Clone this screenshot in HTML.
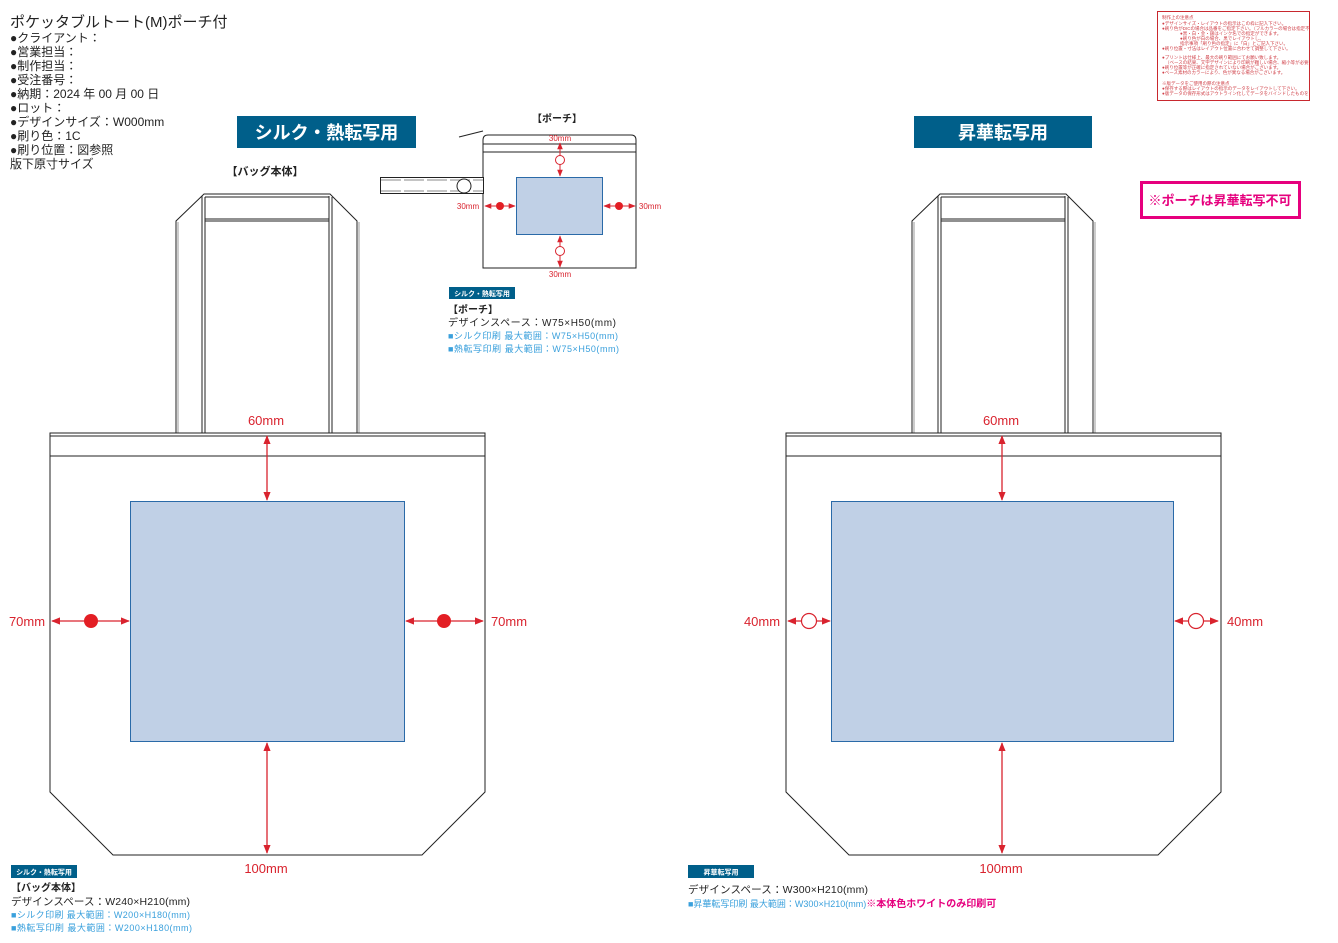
<!DOCTYPE html>
<html><head><meta charset="utf-8"><style>
html,body{margin:0;padding:0;background:#fff;}
body{width:1338px;height:943px;position:relative;overflow:hidden;font-family:"Liberation Sans","Noto Sans CJK JP",sans-serif;}
</style></head><body>
<svg width="1338" height="943" style="position:absolute;left:0;top:0" font-family="Liberation Sans, Noto Sans CJK JP, sans-serif">
<defs>
<marker id="a" viewBox="0 0 10 10" refX="9" refY="5" markerWidth="7" markerHeight="7" orient="auto-start-reverse"><path d="M0,1 L10,5 L0,9z" fill="#d9232e"/></marker>
<clipPath id="nc"><rect x="1158" y="12" width="151" height="88"/></clipPath>
</defs>
<g font-size="12" fill="#222">
<text x="10" y="27" font-size="15">ポケッタブルトート(M)ポーチ付</text>
<text x="10" y="42">●クライアント：</text>
<text x="10" y="56">●営業担当：</text>
<text x="10" y="70">●制作担当：</text>
<text x="10" y="84">●受注番号：</text>
<text x="10" y="98">●納期：2024 年 00 月 00 日</text>
<text x="10" y="112">●ロット：</text>
<text x="10" y="126">●デザインサイズ：W000mm</text>
<text x="10" y="140">●刷り色：1C</text>
<text x="10" y="154">●刷り位置：図参照</text>
<text x="10" y="168">版下原寸サイズ</text>
</g>
<rect x="1157.5" y="11.5" width="152" height="89" fill="#fff" stroke="#c8282e"/>
<g fill="#d04048" font-size="4.5" clip-path="url(#nc)">
<text x="1162" y="19">制作上の注意点</text>
<text x="1162" y="25">●デザインサイズ・レイアウトの指示はこの枠に記入下さい。</text>
<text x="1162" y="30">●刷り色がDICの場合は品番をご指定下さい。（フルカラーの場合は指定不要）</text>
<text x="1180" y="35">●黒・白・金・銀はインク名での指定ができます。</text>
<text x="1180" y="40">●刷り色が白の場合、黒でレイアウトし、</text>
<text x="1180" y="45">指示事項「刷り色の指定」に「白」とご記入下さい。</text>
<text x="1162" y="50">●刷り位置・寸法はレイアウト位置に合わせて調整して下さい。</text>
<text x="1162" y="59">●プリントは仕様上、最大の刷り範囲にてお願い致します。</text>
<text x="1165" y="64">（ベースの結果、文字デザインにより印刷が難しい場合、縮小等が必要な場合がございます）</text>
<text x="1162" y="69">●刷り位置等が正確に指定されていない場合がございます。</text>
<text x="1162" y="74">●ベース素材のカラーにより、色が異なる場合がございます。</text>
<text x="1162" y="85">※版データをご使用の際の注意点</text>
<text x="1162" y="90">●保存する際はレイアウトの指示のデータをレイアウトして下さい。</text>
<text x="1162" y="95">●版データの保存形式はアウトライン化してデータをバインドしたものを</text>
</g>
<rect x="237" y="116" width="179" height="32" fill="#005f8a"/>
<text x="326.5" y="139" fill="#fff" font-size="18" font-weight="bold" text-anchor="middle">シルク・熱転写用</text>
<rect x="914" y="116" width="178" height="32" fill="#005f8a"/>
<text x="1003" y="139" fill="#fff" font-size="18" font-weight="bold" text-anchor="middle">昇華転写用</text>
<rect x="1141.5" y="182.5" width="158" height="35" fill="#fff" stroke="#e6007e" stroke-width="3"/>
<text x="1220" y="205" fill="#e6007e" font-size="13" font-weight="bold" text-anchor="middle">※ポーチは昇華転写不可</text>
<text x="265" y="175" font-size="11" font-weight="bold" fill="#222" text-anchor="middle">【バッグ本体】</text>
<text x="557" y="122" font-size="10" font-weight="bold" fill="#222" text-anchor="middle">【ポーチ】</text>

<g id="bag" fill="none" stroke="#222" stroke-width="1">
<path d="M176,433 V221 L204,194 H330 L357,221 V433" fill="#fff"/>
<path d="M178,433 V222" stroke="#999"/>
<path d="M202,433 V196 M205,433 V197 M329,433 V196 M332,433 V197"/>
<path d="M205,197 H329 M205,219 H329 M205,221 H329"/>
<path d="M359,433 V222" stroke="#999"/>
<path d="M50,433 H485 V792 L422,855 H113 L50,792 Z" fill="#fff"/>
<path d="M50,436 H485 M50,456 H485"/>
</g>
<use href="#bag" x="736"/>
<rect x="130.5" y="501.5" width="274" height="240" fill="#c0d0e6" stroke="#2a6aa8"/>
<rect x="831.5" y="501.5" width="342" height="240" fill="#c0d0e6" stroke="#2a6aa8"/>
<g stroke="#d9232e" stroke-width="1.3" fill="none">
<line x1="267" y1="436" x2="267" y2="500" marker-start="url(#a)" marker-end="url(#a)"/>
<line x1="267" y1="743" x2="267" y2="853" marker-start="url(#a)" marker-end="url(#a)"/>
<line x1="52" y1="621" x2="129" y2="621" marker-start="url(#a)" marker-end="url(#a)"/>
<line x1="406" y1="621" x2="483" y2="621" marker-start="url(#a)" marker-end="url(#a)"/>
<line x1="1002" y1="436" x2="1002" y2="500" marker-start="url(#a)" marker-end="url(#a)"/>
<line x1="1002" y1="743" x2="1002" y2="853" marker-start="url(#a)" marker-end="url(#a)"/>
<line x1="788" y1="621" x2="830" y2="621" marker-start="url(#a)" marker-end="url(#a)"/>
<line x1="1175" y1="621" x2="1218" y2="621" marker-start="url(#a)" marker-end="url(#a)"/>
</g>
<circle cx="91" cy="621" r="7" fill="#e31e24"/>
<circle cx="444" cy="621" r="7" fill="#e31e24"/>
<circle cx="809" cy="621" r="7.5" fill="#fff" stroke="#d9232e" stroke-width="1.2"/>
<circle cx="1196" cy="621" r="7.5" fill="#fff" stroke="#d9232e" stroke-width="1.2"/>
<g fill="#d9232e" font-size="13" text-anchor="middle">
<text x="266" y="425">60mm</text><text x="266" y="873">100mm</text>
<text x="27" y="626">70mm</text><text x="509" y="626">70mm</text>
<text x="1001" y="425">60mm</text><text x="1001" y="873">100mm</text>
<text x="762" y="626">40mm</text><text x="1245" y="626">40mm</text>
</g>

<g fill="none" stroke="#222">
<path d="M483,268 V140 Q483,135 488,135 H631 Q636,135 636,140 V268 H483Z" fill="#fff"/>
<path d="M459,137 L483,131"/>
<path d="M483,144 H636 M483,152 H636"/>
<rect x="380.5" y="177.5" width="103" height="16" fill="#fff"/>
<path d="M381,180 H483 M381,191 H483" stroke="#888" stroke-dasharray="20 3"/>
<circle cx="464" cy="186" r="7" fill="#fff"/>
</g>
<rect x="516.5" y="177.5" width="86" height="57" fill="#c0d0e6" stroke="#2a6aa8"/>
<g stroke="#d9232e" stroke-width="1" fill="none">
<line x1="560" y1="143" x2="560" y2="176" marker-start="url(#a)" marker-end="url(#a)"/>
<line x1="560" y1="236" x2="560" y2="267" marker-start="url(#a)" marker-end="url(#a)"/>
<line x1="485" y1="206" x2="515" y2="206" marker-start="url(#a)" marker-end="url(#a)"/>
<line x1="604" y1="206" x2="635" y2="206" marker-start="url(#a)" marker-end="url(#a)"/>
</g>
<circle cx="560" cy="160" r="4.5" fill="#fff" stroke="#d9232e"/>
<circle cx="560" cy="251" r="4.5" fill="#fff" stroke="#d9232e"/>
<circle cx="500" cy="206" r="4" fill="#e31e24"/>
<circle cx="619" cy="206" r="4" fill="#e31e24"/>
<g fill="#d9232e" font-size="8" text-anchor="middle">
<text x="560" y="141">30mm</text><text x="560" y="277">30mm</text>
<text x="468" y="209">30mm</text><text x="650" y="209">30mm</text>
</g>

<rect x="449" y="287" width="66" height="12" fill="#005f8a"/>
<text x="482" y="296" fill="#fff" font-size="7" font-weight="bold" text-anchor="middle">シルク・熱転写用</text>
<text x="448" y="313" font-size="10" font-weight="bold" fill="#222">【ポーチ】</text>
<text x="448" y="326" font-size="10" fill="#222" textLength="168">デザインスペース：W75×H50(mm)</text>
<text x="448" y="339" font-size="9" fill="#3aa0dc" textLength="170">■シルク印刷 最大範囲：W75×H50(mm)</text>
<text x="448" y="352" font-size="9" fill="#3aa0dc" textLength="171">■熱転写印刷 最大範囲：W75×H50(mm)</text>

<rect x="11" y="865" width="66" height="13" fill="#005f8a"/>
<text x="44" y="874.5" fill="#fff" font-size="7" font-weight="bold" text-anchor="middle">シルク・熱転写用</text>
<text x="11" y="891" font-size="10" font-weight="bold" fill="#222">【バッグ本体】</text>
<text x="11" y="905" font-size="10.5" fill="#222" textLength="179">デザインスペース：W240×H210(mm)</text>
<text x="11" y="918" font-size="9" fill="#3aa0dc" textLength="179">■シルク印刷 最大範囲：W200×H180(mm)</text>
<text x="11" y="931" font-size="9" fill="#3aa0dc" textLength="181">■熱転写印刷 最大範囲：W200×H180(mm)</text>

<rect x="688" y="865" width="66" height="13" fill="#005f8a"/>
<text x="721" y="874.5" fill="#fff" font-size="7" font-weight="bold" text-anchor="middle">昇華転写用</text>
<text x="688" y="893" font-size="10.5" fill="#222" textLength="180">デザインスペース：W300×H210(mm)</text>
<text x="688" y="907" font-size="9" fill="#3aa0dc">■昇華転写印刷 最大範囲：W300×H210(mm)<tspan fill="#e6007e" font-weight="bold" font-size="10">※本体色ホワイトのみ印刷可</tspan></text>
</svg>
</body></html>
